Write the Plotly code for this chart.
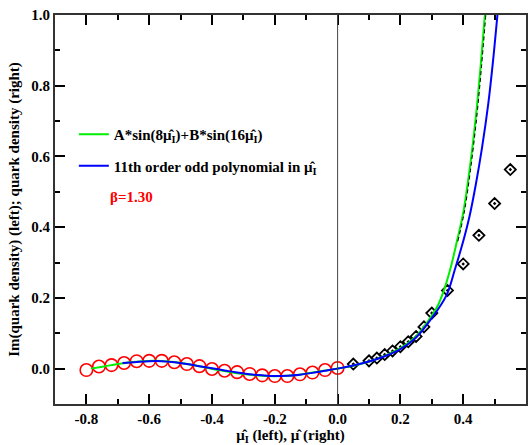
import plotly.graph_objects as go

# Im(quark density) at imaginary chemical potential (left half)
mu_imag = [-0.80, -0.76, -0.72, -0.68, -0.64, -0.60, -0.56, -0.52, -0.48, -0.44,
           -0.40, -0.36, -0.32, -0.28, -0.24, -0.20, -0.16, -0.12, -0.08, -0.04, 0.00]
im_density = [-0.004, 0.006, 0.010, 0.016, 0.021, 0.022, 0.022, 0.018, 0.013, 0.007,
              -0.001, -0.006, -0.010, -0.015, -0.019, -0.021, -0.021, -0.016, -0.011, -0.004, 0.002]

# quark density at real chemical potential (right half)
mu_real = [0.05, 0.10, 0.125, 0.15, 0.175, 0.20, 0.225, 0.25, 0.275, 0.30,
           0.35, 0.40, 0.45, 0.50, 0.55]
density = [0.013, 0.022, 0.030, 0.040, 0.050, 0.062, 0.076, 0.091, 0.118, 0.157,
           0.221, 0.296, 0.377, 0.467, 0.563]

# two-term sine fit, continued to real mu
sin_fit_x = [-0.785, -0.74, -0.70, -0.66, -0.62, -0.58, -0.54, -0.50, -0.46, -0.42,
             -0.38, -0.34, -0.30, -0.26, -0.22, -0.18, -0.14, -0.10, -0.06, -0.02, 0.00,
             0.05, 0.10, 0.15, 0.20, 0.25, 0.29, 0.32, 0.34, 0.36, 0.38, 0.40, 0.42,
             0.44, 0.455, 0.469]
sin_fit_y = [0.000, 0.007, 0.013, 0.018, 0.021, 0.022, 0.020, 0.016, 0.010, 0.003,
             -0.004, -0.010, -0.015, -0.019, -0.021, -0.021, -0.019, -0.014, -0.008, -0.003, 0.000,
             0.008, 0.020, 0.036, 0.058, 0.092, 0.137, 0.180, 0.225, 0.285, 0.360, 0.440, 0.560,
             0.710, 0.850, 1.000]

# companion dashed curve along the sine fit
dash_x = [0.383, 0.403, 0.423, 0.443, 0.458, 0.472]
dash_y = [0.360, 0.440, 0.560, 0.710, 0.850, 1.000]

# 11th order odd polynomial fit, continued to real mu
poly_fit_x = [-0.685, -0.64, -0.60, -0.56, -0.52, -0.48, -0.44, -0.40, -0.36, -0.32,
              -0.28, -0.24, -0.20, -0.16, -0.12, -0.08, -0.04, 0.00,
              0.05, 0.10, 0.15, 0.20, 0.25, 0.30, 0.347, 0.373, 0.40, 0.42, 0.44,
              0.46, 0.48, 0.495, 0.509]
poly_fit_y = [0.016, 0.019, 0.021, 0.021, 0.018, 0.013, 0.007, 0.001, -0.005, -0.011,
              -0.016, -0.019, -0.021, -0.020, -0.017, -0.012, -0.006, 0.000,
              0.009, 0.020, 0.035, 0.055, 0.088, 0.143, 0.208, 0.279, 0.360, 0.430, 0.520,
              0.625, 0.750, 0.870, 1.000]

x_ticks = [-0.8, -0.6, -0.4, -0.2, 0.0, 0.2, 0.4]
x_labels = ["-0.8", "-0.6", "-0.4", "-0.2", "0.0", "0.2", "0.4"]
x_minor = [-0.7, -0.5, -0.3, -0.1, 0.1, 0.3, 0.5]
y_ticks = [0.0, 0.2, 0.4, 0.6, 0.8, 1.0]
y_labels = ["0.0", "0.2", "0.4", "0.6", "0.8", "1.0"]
y_minor = [0.1, 0.3, 0.5, 0.7, 0.9]

MU = "\u03bc\u0302"
SERIF = "'Liberation Serif', 'Times New Roman', serif"
GREEN = "#00ee00"

fig = go.Figure()

fig.add_trace(go.Scatter(
    x=mu_imag, y=im_density, mode="markers", showlegend=False,
    marker=dict(symbol="circle-open", size=12.5, color="#ff0000",
                line=dict(width=1.6, color="#ff0000"))))
fig.add_trace(go.Scatter(
    x=mu_real, y=density, mode="markers", showlegend=False,
    marker=dict(symbol="diamond-open-dot", size=8.5, color="black",
                line=dict(width=1.8, color="black"))))

fig.add_trace(go.Scatter(
    x=sin_fit_x, y=sin_fit_y, mode="lines", line_shape="spline",
    line=dict(color=GREEN, width=2),
    name=f"<b>A*sin(8{MU}<sub>I</sub>)+B*sin(16{MU}<sub>I</sub>)</b>",
    legendgroup="a"))
fig.add_trace(go.Scatter(
    x=dash_x, y=dash_y, mode="lines", line_shape="spline", showlegend=False,
    line=dict(color="black", width=1, dash="4px,3px")))
fig.add_trace(go.Scatter(
    x=poly_fit_x, y=poly_fit_y, mode="lines", line_shape="spline",
    line=dict(color="#0000ff", width=2),
    name=f"<b>11th order odd polynomial in {MU}<sub>I</sub></b>",
    legendgroup="b"))

fig.add_vline(x=0, line=dict(color="#444444", width=1))

fig.add_annotation(
    xref="paper", yref="paper", x=0.113, y=0.532, xanchor="left", yanchor="middle",
    text="<b>\u03b2=1.30</b>", showarrow=False,
    font=dict(family=SERIF, size=15, color="#ff0000"))

axis_common = dict(
    showline=True, linecolor="#333333", linewidth=2, mirror="ticks",
    ticks="inside", ticklen=10, tickwidth=1.5, tickcolor="black",
    showgrid=False, zeroline=False,
    tickfont=dict(family=SERIF, size=15, color="black", weight="bold"),
)

fig.update_layout(
    width=528, height=445,
    margin=dict(l=55, r=0, t=15, b=41),
    paper_bgcolor="white", plot_bgcolor="white",
    font=dict(family=SERIF, color="black"),
    xaxis=dict(
        range=[-0.9, 0.6], tickmode="array", tickvals=x_ticks, ticktext=x_labels,
        minor=dict(tickmode="array", tickvals=x_minor, ticklen=5, tickwidth=1.5,
                   tickcolor="black", ticks="inside"),
        title=dict(text=f"<b>{MU}<sub>I</sub> (left), {MU} (right)</b>", standoff=4,
                   font=dict(family=SERIF, size=15, color="black")),
        **axis_common),
    yaxis=dict(
        range=[-0.1, 1.0], tickmode="array", tickvals=y_ticks, ticktext=y_labels,
        minor=dict(tickmode="array", tickvals=y_minor, ticklen=5, tickwidth=1.5,
                   tickcolor="black", ticks="inside"),
        title=dict(text="<b>Im(quark density) (left); quark density (right)</b>", standoff=8,
                   font=dict(family=SERIF, size=15, color="black")),
        **axis_common),
    legend=dict(
        x=0.04, y=0.735, xanchor="left", yanchor="top",
        bgcolor="rgba(0,0,0,0)", traceorder="grouped", tracegroupgap=9,
        font=dict(family=SERIF, size=15, color="black")),
)

fig.write_html("out.html")
